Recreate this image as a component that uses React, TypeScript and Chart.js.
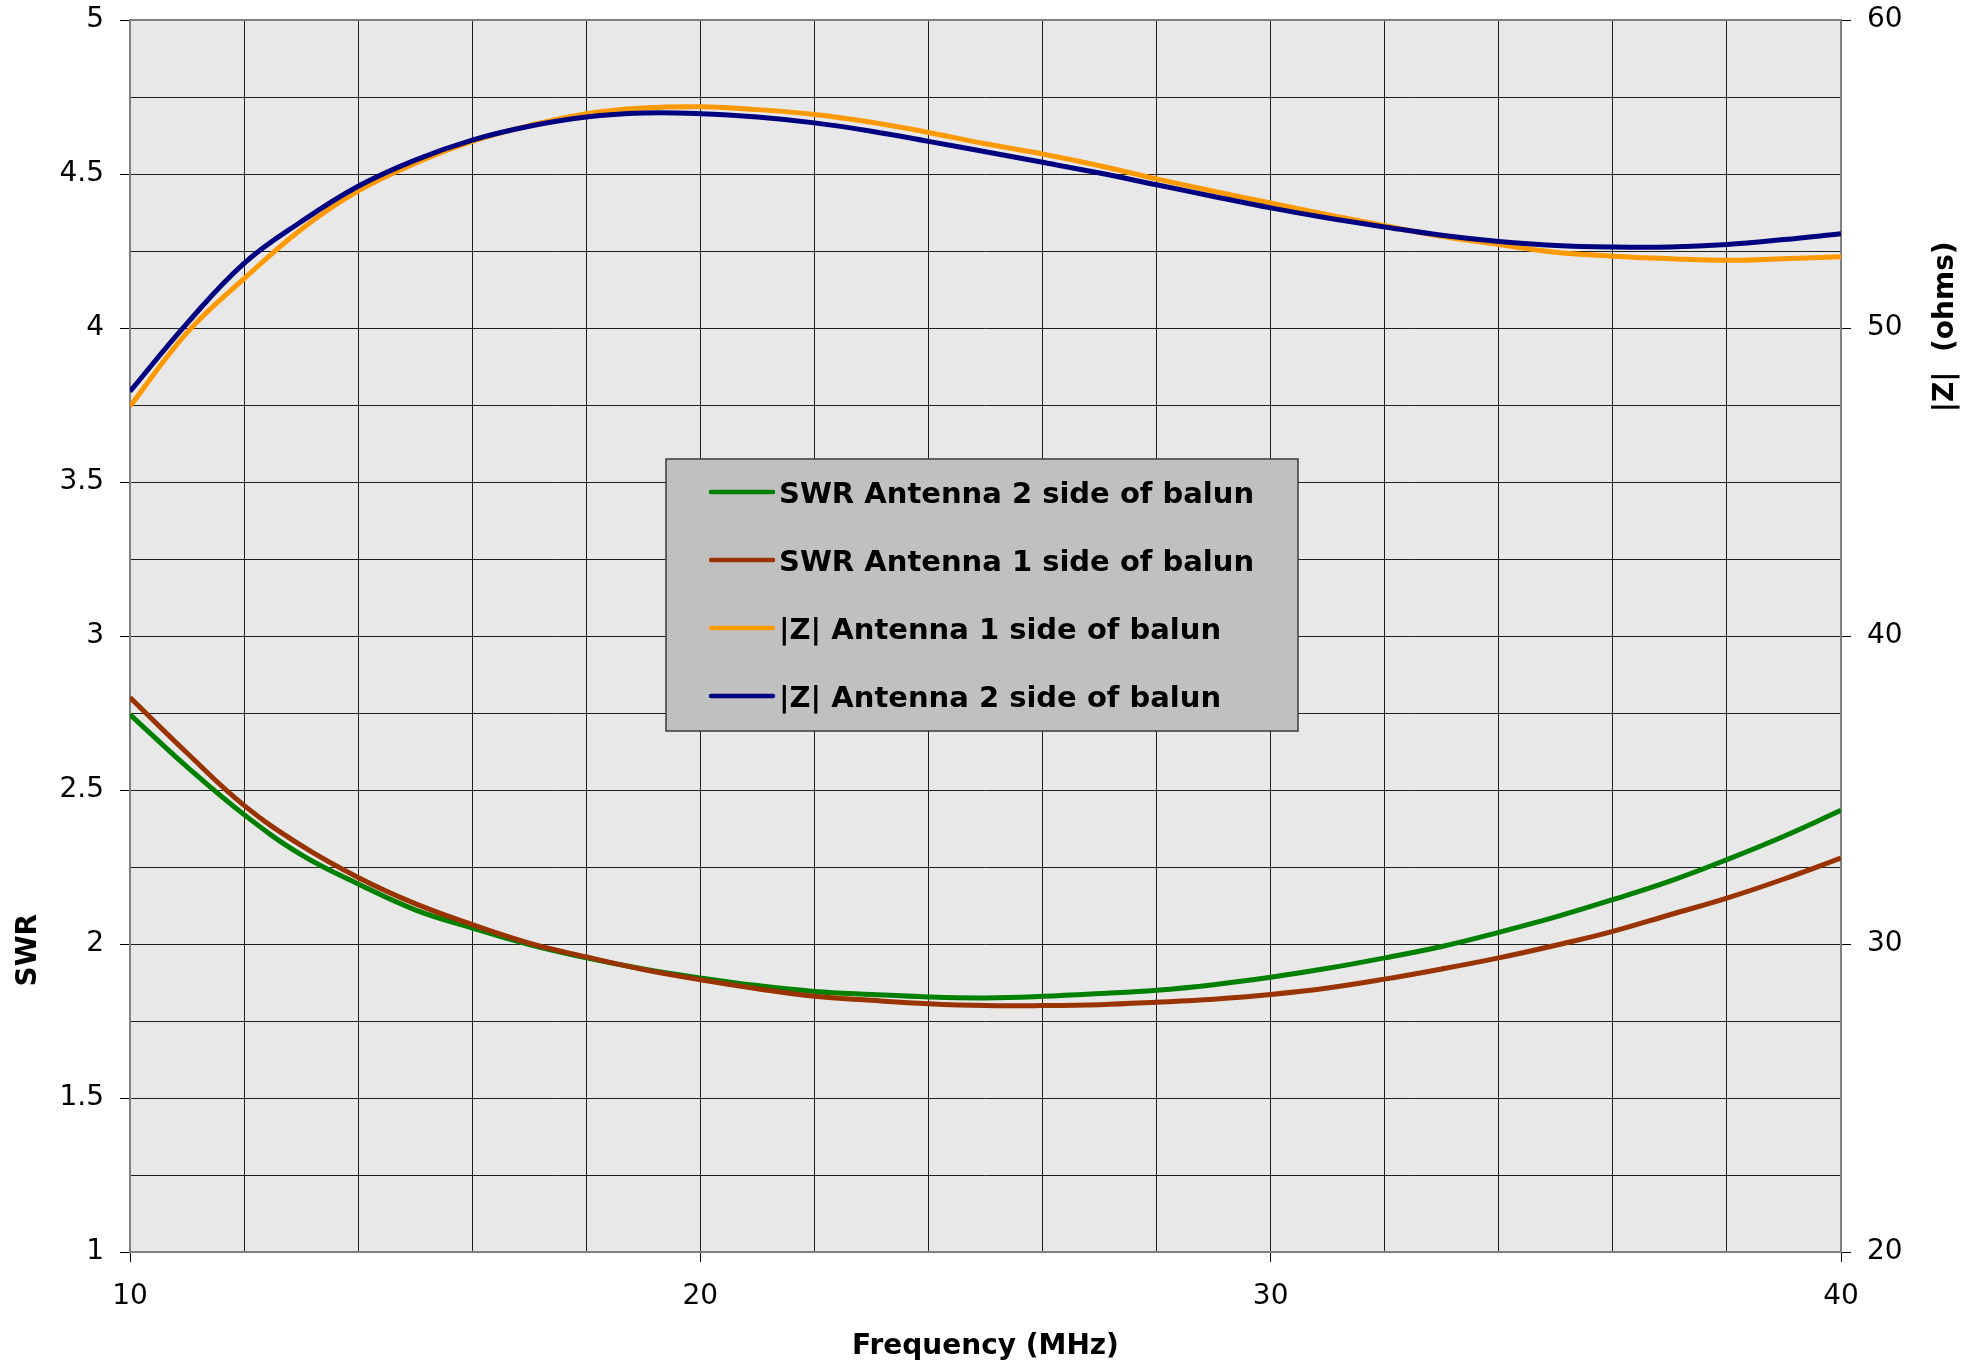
import { useEffect, useRef } from 'react';
import { Chart, registerables } from 'chart.js';

Chart.register(...registerables);

// ---- data ----
const frequencyMHz = [10, 11, 12, 13, 14, 15, 16, 17, 18, 19, 20, 21, 22, 23, 24, 25, 26, 27, 28, 29, 30, 31, 32, 33, 34, 35, 36, 37, 38, 39, 40];

const swrAntenna2 = [2.745, 2.575, 2.42, 2.29, 2.195, 2.111, 2.052, 1.998, 1.955, 1.919, 1.89, 1.865, 1.846, 1.836, 1.828, 1.825, 1.83, 1.839, 1.85, 1.868, 1.892, 1.921, 1.955, 1.992, 2.038, 2.088, 2.144, 2.204, 2.274, 2.35, 2.434];

const swrAntenna1 = [2.8, 2.62, 2.45, 2.32, 2.216, 2.131, 2.063, 2.003, 1.958, 1.917, 1.884, 1.855, 1.83, 1.817, 1.806, 1.8, 1.8, 1.803, 1.811, 1.821, 1.836, 1.857, 1.886, 1.919, 1.955, 1.996, 2.041, 2.095, 2.149, 2.211, 2.279];

const zAntenna1 = [47.46, 49.85, 51.6, 53.2, 54.45, 55.35, 56.06, 56.57, 56.96, 57.14, 57.18, 57.09, 56.93, 56.68, 56.35, 55.98, 55.65, 55.27, 54.84, 54.44, 54.06, 53.68, 53.32, 52.98, 52.71, 52.46, 52.33, 52.25, 52.2, 52.25, 52.31];

const zAntenna2 = [47.94, 50.15, 52.1, 53.45, 54.6, 55.45, 56.1, 56.55, 56.85, 56.98, 56.96, 56.85, 56.66, 56.39, 56.06, 55.72, 55.38, 55.03, 54.65, 54.27, 53.9, 53.57, 53.28, 53.01, 52.81, 52.68, 52.63, 52.63, 52.71, 52.87, 53.06];

const seriesLabels = [
  'SWR Antenna 2 side of balun',
  'SWR Antenna 1 side of balun',
  '|Z| Antenna 1 side of balun',
  '|Z| Antenna 2 side of balun',
];

const xTitle = 'Frequency (MHz)';
const yLeftTitle = 'SWR';
const yRightTitle = '|Z|  (ohms)';

const xRange = [10, 40];
const swrRange = [1, 5];
const zRange = [20, 60];

const colors = ['#008000', '#993300', '#FF9900', '#000080'];

const toPoints = (ys: number[]) => frequencyMHz.map((f, i) => ({ x: f, y: ys[i] }));

const decorPlugin = {
  id: 'decor',
  beforeDraw(chart: any) {
    const { ctx, chartArea: a } = chart;
    ctx.save();
    ctx.fillStyle = '#ffffff';
    ctx.fillRect(0, 0, chart.width, chart.height);
    ctx.fillStyle = '#e8e8e8';
    ctx.fillRect(a.left, a.top, a.right - a.left, a.bottom - a.top);
    ctx.restore();
  },
  beforeDatasetsDraw(chart: any) {
    const { ctx, chartArea: a } = chart;
    ctx.save();
    ctx.strokeStyle = '#808080';
    ctx.lineWidth = 2;
    ctx.strokeRect(a.left, a.top, a.right - a.left, a.bottom - a.top);
    ctx.restore();
  },
  afterDraw(chart: any) {
    const { ctx, chartArea: a } = chart;
    ctx.save();
    // axis titles
    ctx.fillStyle = '#000';
    ctx.font = 'bold 28px "DejaVu Sans"';
    ctx.textAlign = 'center';
    ctx.textBaseline = 'alphabetic';
    ctx.fillText(xTitle, (a.left + a.right) / 2, a.bottom + 102);

    ctx.save();
    ctx.translate(a.left - 94, a.top + (a.bottom - a.top) * 0.755);
    ctx.rotate(-Math.PI / 2);
    ctx.fillText(yLeftTitle, 0, 0);
    ctx.restore();

    ctx.save();
    ctx.translate(a.right + 112, a.top + (a.bottom - a.top) * 0.249);
    ctx.rotate(-Math.PI / 2);
    ctx.fillText(yRightTitle, 0, 0);
    ctx.restore();

    // legend box
    const bx = a.left + 536;
    const by = a.top + 439;
    const bw = 632;
    const bh = 272;
    ctx.fillStyle = '#c0c0c0';
    ctx.fillRect(bx, by, bw, bh);
    ctx.strokeStyle = '#3a3a3a';
    ctx.lineWidth = 1.5;
    ctx.strokeRect(bx, by, bw, bh);
    ctx.font = 'bold 29px "DejaVu Sans"';
    ctx.textAlign = 'left';
    ctx.textBaseline = 'middle';
    chart.data.datasets.forEach((ds: any, i: number) => {
      const ry = by + 33 + i * 68;
      ctx.strokeStyle = ds.borderColor;
      ctx.lineWidth = 4.5;
      ctx.lineCap = 'round';
      ctx.beginPath();
      ctx.moveTo(bx + 45, ry);
      ctx.lineTo(bx + 107, ry);
      ctx.stroke();
      ctx.fillStyle = '#000';
      ctx.fillText(ds.label, bx + 113, ry + 3);
    });
    ctx.restore();
  },
};

export default function App() {
  const canvasRef = useRef<HTMLCanvasElement | null>(null);

  useEffect(() => {
    document.body.style.margin = '0';
    const canvas = canvasRef.current;
    if (!canvas) return;
    const tickFont = { family: '"DejaVu Sans"', size: 28 };
    const datasets = [swrAntenna2, swrAntenna1, zAntenna1, zAntenna2].map((ys, i) => ({
      label: seriesLabels[i],
      data: toPoints(ys),
      borderColor: colors[i],
      backgroundColor: colors[i],
      borderWidth: 5,
      pointRadius: 0,
      tension: 0.4,
      yAxisID: i < 2 ? 'y' : 'y1',
      order: [2, 1, 4, 3][i],
    }));

    const chart = new Chart(canvas, {
      type: 'line',
      data: { datasets },
      plugins: [decorPlugin],
      options: {
        animation: false,
        responsive: false,
        devicePixelRatio: 1,
        layout: { padding: { top: 20, left: 0, right: 0, bottom: 0 } },
        plugins: { legend: { display: false }, tooltip: { enabled: false }, title: { display: false } },
        scales: {
          x: {
            type: 'linear',
            min: xRange[0],
            max: xRange[1],
            afterFit: (s: any) => { s.height = 115; s.paddingLeft = 0; s.paddingRight = 0; },
            border: { display: false },
            grid: {
              color: '#1e1e1e',
              lineWidth: 1,
              tickLength: 10,
              tickColor: (c: any) => (c.tick && c.tick.value % 10 === 0 ? '#000' : 'rgba(0,0,0,0)'),
            },
            ticks: {
              stepSize: 2,
              autoSkip: false,
              maxRotation: 0,
              padding: 18,
              color: '#000',
              font: tickFont,
              callback: (v: any) => (Number(v) % 10 === 0 ? String(v) : ''),
            },
          },
          y: {
            type: 'linear',
            position: 'left',
            min: swrRange[0],
            max: swrRange[1],
            afterFit: (s: any) => { s.width = 130; s.paddingTop = 0; s.paddingBottom = 0; },
            border: { display: false },
            grid: {
              color: '#1e1e1e',
              lineWidth: 1,
              tickLength: 10,
              tickColor: (c: any) => (c.tick && Math.abs((c.tick.value * 2) % 1) < 1e-9 ? '#000' : 'rgba(0,0,0,0)'),
            },
            ticks: {
              stepSize: 0.25,
              autoSkip: false,
              padding: 16,
              color: '#000',
              font: tickFont,
              callback: (v: any) => (Math.abs((Number(v) * 2) % 1) < 1e-9 ? String(v) : ''),
            },
          },
          y1: {
            type: 'linear',
            position: 'right',
            min: zRange[0],
            max: zRange[1],
            afterFit: (s: any) => { s.width = 141; s.paddingTop = 0; s.paddingBottom = 0; },
            border: { display: false },
            grid: { drawOnChartArea: false, tickLength: 10, tickColor: '#000' },
            ticks: {
              stepSize: 10,
              autoSkip: false,
              padding: 16,
              color: '#000',
              font: tickFont,
            },
          },
        },
      },
    });
    return () => chart.destroy();
  }, []);

  return (
    <div style={{ position: 'absolute', left: 0, top: 0, width: 1982, height: 1367, background: '#fff' }}>
      <canvas ref={canvasRef} width={1982} height={1367} style={{ display: 'block', width: 1982, height: 1367 }} />
    </div>
  );
}
